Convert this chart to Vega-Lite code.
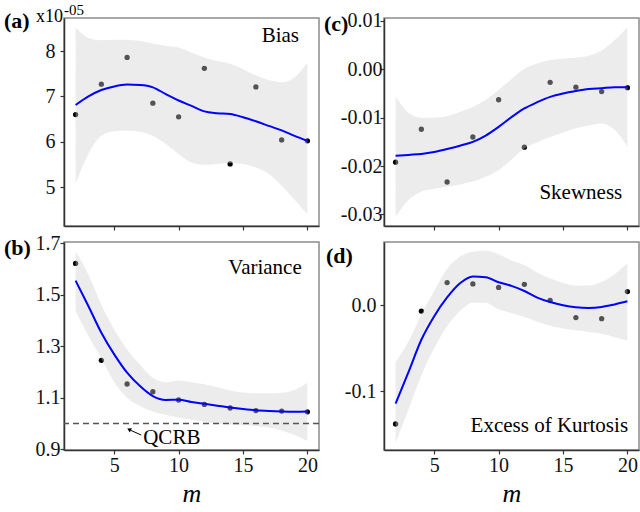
{
  "$schema": "https://vega.github.io/schema/vega-lite/v6.json",
  "padding": {"left": 3, "top": 2, "right": 0, "bottom": 0},
  "background": "white",
  "config": {
    "font": "Liberation Serif",
    "view": {"stroke": "#8c8c8c", "strokeWidth": 1.5},
    "axis": {"grid": false, "domainColor": "#333333", "domainWidth": 1.5, "tickColor": "#333333", "tickWidth": 1.2, "tickSize": 4, "labelFontSize": 20, "labelColor": "#111111", "labelFont": "Times New Roman, Liberation Serif, serif", "titleFont": "Times New Roman, Liberation Serif, serif", "titleFontWeight": "normal", "titleColor": "#000000", "labelFlush": false, "labelOverlap": false},
    "text": {"font": "Liberation Serif", "color": "#000000", "baseline": "alphabetic"}
  },
  "columns": 2,
  "bounds": "flush",
  "spacing": {"row": 16, "column": 65},
  "concat": [
    {
      "width": 255, "height": 208,
      "data": {"values": [
        {"m": 2, "obs": 6.60, "fit": 6.81, "lo": 5.08, "hi": 8.52},
        {"m": 3, "fit": 7.00, "lo": 5.73, "hi": 8.29},
        {"m": 4, "obs": 7.27, "fit": 7.14, "lo": 6.13, "hi": 8.24},
        {"m": 5, "fit": 7.22, "lo": 6.23, "hi": 8.25},
        {"m": 6, "obs": 7.86, "fit": 7.26, "lo": 6.24, "hi": 8.25},
        {"m": 7, "fit": 7.25, "lo": 6.22, "hi": 8.22},
        {"m": 8, "obs": 6.85, "fit": 7.20, "lo": 6.13, "hi": 8.16},
        {"m": 9, "fit": 7.05, "lo": 5.95, "hi": 8.12},
        {"m": 10, "obs": 6.55, "fit": 6.91, "lo": 5.73, "hi": 8.08},
        {"m": 11, "fit": 6.79, "lo": 5.54, "hi": 7.97},
        {"m": 12, "obs": 7.62, "fit": 6.67, "lo": 5.49, "hi": 7.86},
        {"m": 13, "fit": 6.63, "lo": 5.51, "hi": 7.78},
        {"m": 14, "obs": 5.51, "fit": 6.61, "lo": 5.53, "hi": 7.72},
        {"m": 15, "fit": 6.54, "lo": 5.51, "hi": 7.60},
        {"m": 16, "obs": 7.21, "fit": 6.45, "lo": 5.43, "hi": 7.46},
        {"m": 17, "fit": 6.35, "lo": 5.29, "hi": 7.36},
        {"m": 18, "obs": 6.04, "fit": 6.25, "lo": 5.03, "hi": 7.31},
        {"m": 19, "fit": 6.13, "lo": 4.72, "hi": 7.42},
        {"m": 20, "obs": 6.02, "fit": 6.02, "lo": 4.40, "hi": 7.75}
      ]},
      "layer": [
        {"mark": {"type": "point", "filled": true, "color": "#000000", "size": 28, "opacity": 1},
         "encoding": {
           "x": {"field": "m", "type": "quantitative", "title": null, "scale": {"domain": [1.1, 20.9], "nice": false, "zero": false},
                 "axis": {"values": [5, 10, 15, 20], "labels": false}},
           "y": {"field": "obs", "type": "quantitative", "title": null,
           "scale": {"domain": [4.14, 8.73], "nice": false, "zero": false},
           "axis": {"values": [5, 6, 7, 8], "format": "d", "labelPadding": 5}}}},
        {"mark": {"type": "area", "color": "#cfcfcf", "opacity": 0.4, "interpolate": "monotone"},
         "encoding": {"x": {"field": "m", "type": "quantitative", "title": null}, "y": {"field": "lo", "type": "quantitative", "title": null}, "y2": {"field": "hi"}}},
        {"mark": {"type": "line", "color": "#0000ff", "strokeWidth": 2, "interpolate": "monotone"},
         "encoding": {"x": {"field": "m", "type": "quantitative", "title": null}, "y": {"field": "fit", "type": "quantitative", "title": null}}},
        {"data": {"values": [{"m": 19.35, "v": 8.2, "label": "Bias"}]},
         "mark": {"type": "text", "align": "right", "fontSize": 21},
         "encoding": {"x": {"field": "m", "type": "quantitative", "title": null}, "y": {"field": "v", "type": "quantitative", "title": null}, "text": {"field": "label"}}},
        {"data": {"values": [{"m": 1.03, "v": 8.64, "label": "x10"}]},
         "mark": {"type": "text", "align": "right", "fontSize": 18},
         "encoding": {"x": {"field": "m", "type": "quantitative", "title": null}, "y": {"field": "v", "type": "quantitative", "title": null}, "text": {"field": "label"}}},
        {"data": {"values": [{"m": 1.1, "v": 8.8, "label": "-05"}]},
         "mark": {"type": "text", "align": "left", "fontSize": 15},
         "encoding": {"x": {"field": "m", "type": "quantitative", "title": null}, "y": {"field": "v", "type": "quantitative", "title": null}, "text": {"field": "label"}}},
        {"data": {"values": [{"m": -3.56, "v": 8.52, "label": "(a)"}]},
         "mark": {"type": "text", "align": "left", "fontSize": 22, "fontWeight": "bold"},
         "encoding": {"x": {"field": "m", "type": "quantitative", "title": null}, "y": {"field": "v", "type": "quantitative", "title": null}, "text": {"field": "label"}}}
      ]
    },
    {
      "width": 255, "height": 208,
      "data": {"values": [
        {"m": 2, "obs": -0.0192, "fit": -0.0179, "lo": -0.0305, "hi": -0.0056},
        {"m": 3, "fit": -0.0177, "lo": -0.0270, "hi": -0.0090},
        {"m": 4, "obs": -0.0124, "fit": -0.0175, "lo": -0.0253, "hi": -0.0100},
        {"m": 5, "fit": -0.0171, "lo": -0.0247, "hi": -0.0100},
        {"m": 6, "obs": -0.0233, "fit": -0.0165, "lo": -0.0243, "hi": -0.0097},
        {"m": 7, "fit": -0.0158, "lo": -0.0238, "hi": -0.0088},
        {"m": 8, "obs": -0.0140, "fit": -0.0150, "lo": -0.0232, "hi": -0.0078},
        {"m": 9, "fit": -0.0137, "lo": -0.0222, "hi": -0.0063},
        {"m": 10, "obs": -0.0063, "fit": -0.0119, "lo": -0.0208, "hi": -0.0043},
        {"m": 11, "fit": -0.0099, "lo": -0.0187, "hi": -0.0020},
        {"m": 12, "obs": -0.0161, "fit": -0.0081, "lo": -0.0164, "hi": 0.0001},
        {"m": 13, "fit": -0.0068, "lo": -0.0151, "hi": 0.0012},
        {"m": 14, "obs": -0.0027, "fit": -0.0057, "lo": -0.0140, "hi": 0.0019},
        {"m": 15, "fit": -0.0050, "lo": -0.0131, "hi": 0.0022},
        {"m": 16, "obs": -0.0037, "fit": -0.0045, "lo": -0.0122, "hi": 0.0024},
        {"m": 17, "fit": -0.0041, "lo": -0.0116, "hi": 0.0028},
        {"m": 18, "obs": -0.0046, "fit": -0.0039, "lo": -0.0112, "hi": 0.0039},
        {"m": 19, "fit": -0.0037, "lo": -0.0125, "hi": 0.0060},
        {"m": 20, "obs": -0.0038, "fit": -0.0037, "lo": -0.0160, "hi": 0.0087}
      ]},
      "layer": [
        {"mark": {"type": "point", "filled": true, "color": "#000000", "size": 28, "opacity": 1},
         "encoding": {
           "x": {"field": "m", "type": "quantitative", "title": null, "scale": {"domain": [1.1, 20.9], "nice": false, "zero": false},
                 "axis": {"values": [5, 10, 15, 20], "labels": false}},
           "y": {"field": "obs", "type": "quantitative", "title": null,
           "scale": {"domain": [-0.0324, 0.0106], "nice": false, "zero": false},
           "axis": {"values": [-0.03, -0.02, -0.01, 0, 0.01], "labelExpr": "replace(format(datum.value, '.2f'), '\u2212', '-')", "labelPadding": -2}}}},
        {"mark": {"type": "area", "color": "#cfcfcf", "opacity": 0.4, "interpolate": "monotone"},
         "encoding": {"x": {"field": "m", "type": "quantitative", "title": null}, "y": {"field": "lo", "type": "quantitative", "title": null}, "y2": {"field": "hi"}}},
        {"mark": {"type": "line", "color": "#0000ff", "strokeWidth": 2, "interpolate": "monotone"},
         "encoding": {"x": {"field": "m", "type": "quantitative", "title": null}, "y": {"field": "fit", "type": "quantitative", "title": null}}},
        {"data": {"values": [{"m": 19.6, "v": -0.0268, "label": "Skewness"}]},
         "mark": {"type": "text", "align": "right", "fontSize": 21},
         "encoding": {"x": {"field": "m", "type": "quantitative", "title": null}, "y": {"field": "v", "type": "quantitative", "title": null}, "text": {"field": "label"}}},
        {"data": {"values": [{"m": -3.56, "v": 0.0079, "label": "(c)"}]},
         "mark": {"type": "text", "align": "left", "fontSize": 22, "fontWeight": "bold"},
         "encoding": {"x": {"field": "m", "type": "quantitative", "title": null}, "y": {"field": "v", "type": "quantitative", "title": null}, "text": {"field": "label"}}}
      ]
    },
    {
      "width": 255, "height": 208,
      "data": {"values": [
        {"m": 2, "obs": 1.621, "fit": 1.554, "lo": 1.435, "hi": 1.668},
        {"m": 3, "fit": 1.455, "lo": 1.339, "hi": 1.577},
        {"m": 4, "obs": 1.245, "fit": 1.352, "lo": 1.252, "hi": 1.461},
        {"m": 5, "fit": 1.268, "lo": 1.160, "hi": 1.365},
        {"m": 6, "obs": 1.153, "fit": 1.197, "lo": 1.100, "hi": 1.287},
        {"m": 7, "fit": 1.145, "lo": 1.068, "hi": 1.229},
        {"m": 8, "obs": 1.123, "fit": 1.106, "lo": 1.046, "hi": 1.177},
        {"m": 9, "fit": 1.091, "lo": 1.033, "hi": 1.160},
        {"m": 10, "obs": 1.091, "fit": 1.092, "lo": 1.023, "hi": 1.167},
        {"m": 11, "fit": 1.083, "lo": 1.014, "hi": 1.160},
        {"m": 12, "obs": 1.074, "fit": 1.076, "lo": 1.006, "hi": 1.152},
        {"m": 13, "fit": 1.069, "lo": 1.000, "hi": 1.140},
        {"m": 14, "obs": 1.060, "fit": 1.062, "lo": 0.996, "hi": 1.128},
        {"m": 15, "fit": 1.056, "lo": 0.993, "hi": 1.120},
        {"m": 16, "obs": 1.050, "fit": 1.051, "lo": 0.990, "hi": 1.117},
        {"m": 17, "fit": 1.048, "lo": 0.984, "hi": 1.117},
        {"m": 18, "obs": 1.048, "fit": 1.046, "lo": 0.973, "hi": 1.119},
        {"m": 19, "fit": 1.045, "lo": 0.955, "hi": 1.130},
        {"m": 20, "obs": 1.045, "fit": 1.046, "lo": 0.932, "hi": 1.158}
      ]},
      "layer": [
        {"mark": {"type": "point", "filled": true, "color": "#000000", "size": 28, "opacity": 1},
         "encoding": {
           "x": {"field": "m", "type": "quantitative", "title": "m", "scale": {"domain": [1.1, 20.9], "nice": false, "zero": false},
                 "axis": {"values": [5, 10, 15, 20], "labelPadding": 1, "titleFontSize": 26, "titleFontStyle": "italic", "titlePadding": 5}},
           "y": {"field": "obs", "type": "quantitative", "title": null,
           "scale": {"domain": [0.897, 1.704], "nice": false, "zero": false},
           "axis": {"values": [0.9, 1.1, 1.3, 1.5, 1.7], "format": ".1f", "labelPadding": 0}}}},
        {"mark": {"type": "area", "color": "#cfcfcf", "opacity": 0.4, "interpolate": "monotone"},
         "encoding": {"x": {"field": "m", "type": "quantitative", "title": "m"}, "y": {"field": "lo", "type": "quantitative", "title": null}, "y2": {"field": "hi"}}},
        {"mark": {"type": "line", "color": "#0000ff", "strokeWidth": 2, "interpolate": "monotone"},
         "encoding": {"x": {"field": "m", "type": "quantitative", "title": "m"}, "y": {"field": "fit", "type": "quantitative", "title": null}}},
        {"data": {"values": [{"q": 1.0}]},
         "mark": {"type": "rule", "color": "#555555", "strokeWidth": 1.5, "strokeDash": [6, 4]},
         "encoding": {"y": {"field": "q", "type": "quantitative", "title": null}}},
        {"data": {"values": [{"m": 7.1, "v": 0.955, "m2": 6.3, "v2": 0.973}]},
         "mark": {"type": "rule", "color": "#000000", "strokeWidth": 1},
         "encoding": {"x": {"field": "m", "type": "quantitative", "title": "m"}, "y": {"field": "v", "type": "quantitative", "title": null}, "x2": {"field": "m2"}, "y2": {"field": "v2"}}},
        {"data": {"values": [{"m": 6.15, "v": 0.977}]},
         "mark": {"type": "point", "shape": "triangle-up", "filled": true, "color": "#000000", "size": 22, "opacity": 1, "angle": 296},
         "encoding": {"x": {"field": "m", "type": "quantitative", "title": "m"}, "y": {"field": "v", "type": "quantitative", "title": null}}},
        {"data": {"values": [{"m": 19.56, "v": 1.581, "label": "Variance"}]},
         "mark": {"type": "text", "align": "right", "fontSize": 21},
         "encoding": {"x": {"field": "m", "type": "quantitative", "title": "m"}, "y": {"field": "v", "type": "quantitative", "title": null}, "text": {"field": "label"}}},
        {"data": {"values": [{"m": 7.25, "v": 0.919, "label": "QCRB"}]},
         "mark": {"type": "text", "align": "left", "fontSize": 21},
         "encoding": {"x": {"field": "m", "type": "quantitative", "title": "m"}, "y": {"field": "v", "type": "quantitative", "title": null}, "text": {"field": "label"}}},
        {"data": {"values": [{"m": -3.56, "v": 1.654, "label": "(b)"}]},
         "mark": {"type": "text", "align": "left", "fontSize": 22, "fontWeight": "bold"},
         "encoding": {"x": {"field": "m", "type": "quantitative", "title": "m"}, "y": {"field": "v", "type": "quantitative", "title": null}, "text": {"field": "label"}}}
      ]
    },
    {
      "width": 255, "height": 208,
      "data": {"values": [
        {"m": 2, "obs": -0.1378, "fit": -0.1142, "lo": -0.160, "hi": -0.0657},
        {"m": 3, "fit": -0.0776, "lo": -0.121, "hi": -0.042},
        {"m": 4, "obs": -0.0067, "fit": -0.040, "lo": -0.0815, "hi": -0.0106},
        {"m": 5, "fit": -0.0126, "lo": -0.050, "hi": 0.017},
        {"m": 6, "obs": 0.0264, "fit": 0.0091, "lo": -0.0244, "hi": 0.0425},
        {"m": 7, "fit": 0.0256, "lo": -0.0067, "hi": 0.0563},
        {"m": 8, "obs": 0.0248, "fit": 0.0335, "lo": 0.0031, "hi": 0.0622},
        {"m": 9, "fit": 0.0327, "lo": 0.0031, "hi": 0.0634},
        {"m": 10, "obs": 0.0207, "fit": 0.0268, "lo": -0.0047, "hi": 0.0594},
        {"m": 11, "fit": 0.0225, "lo": -0.009, "hi": 0.052},
        {"m": 12, "obs": 0.0244, "fit": 0.0166, "lo": -0.0137, "hi": 0.0467},
        {"m": 13, "fit": 0.009, "lo": -0.019, "hi": 0.038},
        {"m": 14, "obs": 0.0058, "fit": 0.0038, "lo": -0.0236, "hi": 0.031},
        {"m": 15, "fit": 0.0, "lo": -0.027, "hi": 0.026},
        {"m": 16, "obs": -0.0143, "fit": -0.0023, "lo": -0.029, "hi": 0.023},
        {"m": 17, "fit": -0.003, "lo": -0.031, "hi": 0.023},
        {"m": 18, "obs": -0.0155, "fit": -0.0019, "lo": -0.033, "hi": 0.027},
        {"m": 19, "fit": 0.001, "lo": -0.037, "hi": 0.036},
        {"m": 20, "obs": 0.0159, "fit": 0.0046, "lo": -0.041, "hi": 0.049}
      ]},
      "layer": [
        {"mark": {"type": "point", "filled": true, "color": "#000000", "size": 28, "opacity": 1},
         "encoding": {
           "x": {"field": "m", "type": "quantitative", "title": "m", "scale": {"domain": [1.1, 20.9], "nice": false, "zero": false},
                 "axis": {"values": [5, 10, 15, 20], "labelPadding": 1, "titleFontSize": 26, "titleFontStyle": "italic", "titlePadding": 5}},
           "y": {"field": "obs", "type": "quantitative", "title": null,
           "scale": {"domain": [-0.168, 0.0735], "nice": false, "zero": false},
           "axis": {"values": [-0.1, 0], "labelExpr": "replace(format(datum.value, '.1f'), '\u2212', '-')", "labelPadding": 4}}}},
        {"mark": {"type": "area", "color": "#cfcfcf", "opacity": 0.4, "interpolate": "monotone"},
         "encoding": {"x": {"field": "m", "type": "quantitative", "title": "m"}, "y": {"field": "lo", "type": "quantitative", "title": null}, "y2": {"field": "hi"}}},
        {"mark": {"type": "line", "color": "#0000ff", "strokeWidth": 2, "interpolate": "monotone"},
         "encoding": {"x": {"field": "m", "type": "quantitative", "title": "m"}, "y": {"field": "fit", "type": "quantitative", "title": null}}},
        {"data": {"values": [{"m": 20.05, "v": -0.147, "label": "Excess of Kurtosis"}]},
         "mark": {"type": "text", "align": "right", "fontSize": 21},
         "encoding": {"x": {"field": "m", "type": "quantitative", "title": "m"}, "y": {"field": "v", "type": "quantitative", "title": null}, "text": {"field": "label"}}},
        {"data": {"values": [{"m": -3.4, "v": 0.049, "label": "(d)"}]},
         "mark": {"type": "text", "align": "left", "fontSize": 22, "fontWeight": "bold"},
         "encoding": {"x": {"field": "m", "type": "quantitative", "title": "m"}, "y": {"field": "v", "type": "quantitative", "title": null}, "text": {"field": "label"}}}
      ]
    }
  ]
}
